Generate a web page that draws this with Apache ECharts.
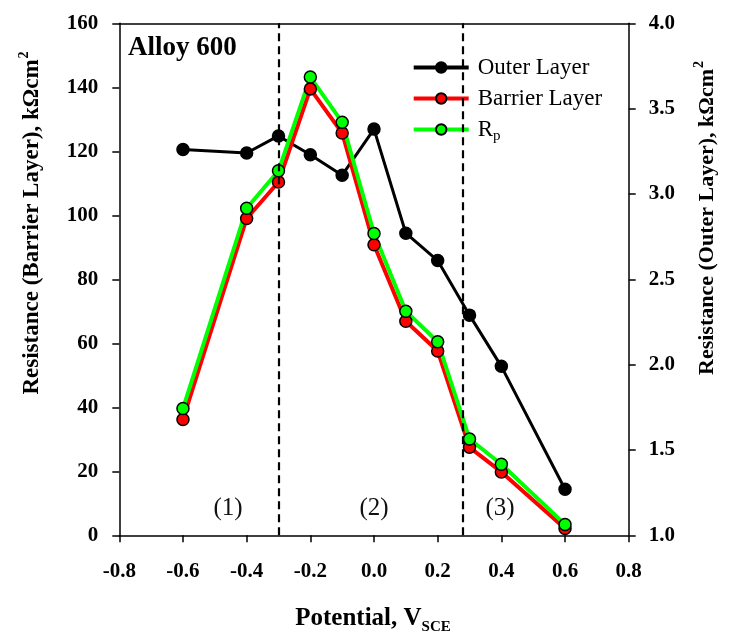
<!DOCTYPE html>
<html>
<head>
<meta charset="utf-8">
<script src="https://cdn.jsdelivr.net/npm/echarts@6/dist/echarts.min.js"></script>
<style>html,body{margin:0;padding:0;background:#fff}#c{width:731px;height:635px}</style>
</head>
<body>
<div id="c"></div>
<script>
const potential = [-0.6, -0.4, -0.3, -0.2, -0.1, 0.0, 0.1, 0.2, 0.3, 0.4, 0.6];
const outerLayer = [3.26, 3.24, 3.34, 3.23, 3.11, 3.38, 2.77, 2.61, 2.29, 1.99, 1.27];
const barrierLayer = [36.2, 99.0, 110.4, 139.5, 125.7, 90.8, 66.9, 57.6, 27.5, 19.8, 2.1];
const rpValues = [39.6, 102.2, 113.9, 143.2, 129.1, 94.3, 70.0, 60.5, 30.1, 22.2, 3.4];
const regionBounds = [-0.3, 0.275];
const regionLabels = ['(1)', '(2)', '(3)'];

const SERIF = '"Liberation Serif", "Times New Roman", serif';
const pairs = ys => potential.map((x, i) => [x, ys[i]]);

const chart = echarts.init(document.getElementById('c'));
const tickLabel = { fontFamily: SERIF, fontWeight: 'bold', fontSize: 21, color: '#000' };
const axisLine = { show: true, onZero: false, lineStyle: { color: '#000', width: 1.5 } };
const axisTick = { show: true, inside: false, length: 7, lineStyle: { color: '#000', width: 1.5 } };

chart.setOption({
  animation: false,
  backgroundColor: '#fff',
  grid: { left: 119.3, right: 102.3, top: 23.3, bottom: 99.7, containLabel: false },
  legend: {
    orient: 'vertical',
    left: 406.7,
    top: 51,
    itemWidth: 55,
    itemHeight: 13,
    itemGap: 8,
    data: [
      { name: 'Outer Layer', lineStyle: { width: 4, color: '#000' } },
      { name: 'Barrier Layer', lineStyle: { width: 4, color: '#ff0000' } },
      { name: 'Rp', lineStyle: { width: 4, color: '#00ff00' } }
    ],
    formatter: n => n === 'Rp' ? '{m|R}{s|p}' : '{m|' + n + '}',
    textStyle: {
      padding: [0, 0, 0, 4],
      rich: {
        m: { fontFamily: SERIF, fontSize: 23, color: '#000', lineHeight: 24 },
        s: { fontFamily: SERIF, fontSize: 15, color: '#000', padding: [14, 0, 0, 0] }
      }
    }
  },
  xAxis: [
    {
      type: 'value', min: -0.8, max: 0.8, interval: 0.2, position: 'bottom',
      axisLine, axisTick,
      axisLabel: Object.assign({ margin: 26, formatter: v => v.toFixed(1) }, tickLabel),
      splitLine: { show: false }
    },
    {
      type: 'value', min: -0.8, max: 0.8, position: 'top',
      axisLine, axisTick: { show: false }, axisLabel: { show: false }, splitLine: { show: false }
    }
  ],
  yAxis: [
    {
      type: 'value', min: 0, max: 160, interval: 20, position: 'left',
      axisLine, axisTick,
      axisLabel: Object.assign({ margin: 21 }, tickLabel),
      splitLine: { show: false }
    },
    {
      type: 'value', min: 1.0, max: 4.0, interval: 0.5, position: 'right',
      axisLine, axisTick,
      axisLabel: Object.assign({ margin: 20, formatter: v => v.toFixed(1) }, tickLabel),
      splitLine: { show: false }
    }
  ],
  series: [
    {
      name: 'Outer Layer', type: 'line', yAxisIndex: 1, data: pairs(outerLayer),
      symbol: 'circle', symbolSize: 12,
      lineStyle: { color: '#000', width: 3 },
      itemStyle: { color: '#000', borderColor: '#000', borderWidth: 1.5 },
      markLine: {
        silent: true, symbol: ['none', 'none'], label: { show: false },
        lineStyle: { color: '#000', type: [8, 5], width: 2.2 },
        data: regionBounds.map(x => ({ xAxis: x }))
      }
    },
    {
      name: 'Barrier Layer', type: 'line', yAxisIndex: 0, data: pairs(barrierLayer),
      symbol: 'circle', symbolSize: 12,
      lineStyle: { color: '#ff0000', width: 4 },
      itemStyle: { color: '#ff0000', borderColor: '#000', borderWidth: 1.5 }
    },
    {
      name: 'Rp', type: 'line', yAxisIndex: 0, data: pairs(rpValues),
      symbol: 'circle', symbolSize: 12,
      lineStyle: { color: '#00ff00', width: 4 },
      itemStyle: { color: '#00ff00', borderColor: '#000', borderWidth: 1.5 }
    }
  ],
  graphic: [
    { type: 'text', left: 128, top: 35, style: { text: 'Alloy 600', fontFamily: SERIF, fontWeight: 'bold', fontSize: 27, fill: '#000' } },
    { type: 'text', x: 228, y: 508, style: { text: regionLabels[0], fontFamily: SERIF, fontSize: 25, fill: '#111', align: 'center', verticalAlign: 'middle' } },
    { type: 'text', x: 374, y: 508, style: { text: regionLabels[1], fontFamily: SERIF, fontSize: 25, fill: '#111', align: 'center', verticalAlign: 'middle' } },
    { type: 'text', x: 500, y: 508, style: { text: regionLabels[2], fontFamily: SERIF, fontSize: 25, fill: '#111', align: 'center', verticalAlign: 'middle' } },
    { type: 'text', x: 373, y: 619, style: {
        text: '{b|Potential, V}{s|SCE}', align: 'center', verticalAlign: 'middle',
        rich: {
          b: { fontFamily: SERIF, fontWeight: 'bold', fontSize: 25, color: '#000' },
          s: { fontFamily: SERIF, fontWeight: 'bold', fontSize: 15, color: '#000', padding: [16, 0, 0, 0] }
        } } },
    { type: 'text', x: 32, y: 223, rotation: Math.PI / 2, style: {
        text: '{b|Resistance (Barrier Layer), kΩcm}{p|2}', align: 'center', verticalAlign: 'middle',
        rich: {
          b: { fontFamily: SERIF, fontWeight: 'bold', fontSize: 23, color: '#000' },
          p: { fontFamily: SERIF, fontWeight: 'bold', fontSize: 14, color: '#000', padding: [0, 0, 16, 1] }
        } } },
    { type: 'text', x: 707, y: 218, rotation: Math.PI / 2, style: {
        text: '{b|Resistance (Outer Layer), kΩcm}{p|2}', align: 'center', verticalAlign: 'middle',
        rich: {
          b: { fontFamily: SERIF, fontWeight: 'bold', fontSize: 22, color: '#000' },
          p: { fontFamily: SERIF, fontWeight: 'bold', fontSize: 14, color: '#000', padding: [0, 0, 16, 1] }
        } } }
  ]
});
</script>
</body>
</html>
